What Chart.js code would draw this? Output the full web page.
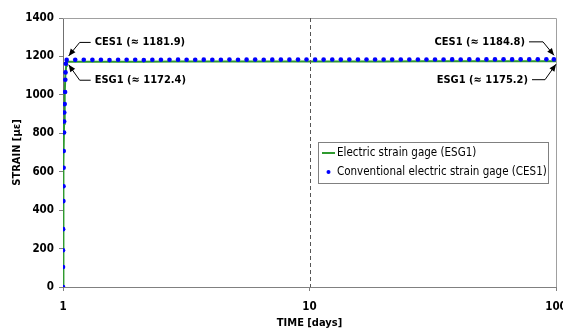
<!DOCTYPE html>
<html>
<head>
<meta charset="utf-8">
<script src="https://cdn.jsdelivr.net/npm/chart.js@4.4.1/dist/chart.umd.min.js"></script>
<style>
  body{margin:0;background:#fff;}
  canvas{display:block;}
</style>
</head>
<body>
<canvas id="myChart" width="563" height="331"></canvas>
<script>
// conventional gage (CES1) readings, time in days
const cesTime = [1.000,1.000,1.000,1.001,1.004,1.005,1.006,1.007,1.010,1.011,1.012,1.016,1.020,1.022,1.024,1.027,1.035,
  1.121,1.214,1.316,1.425,1.544,1.673,1.812,1.963,2.127,2.304,2.496,2.704,2.929,3.173,3.438,3.724,4.034,4.370,4.734,5.129,
  5.556,6.019,6.521,7.064,7.653,8.290,8.981,9.725,10.54,11.41,12.37,13.40,14.51,15.72,17.03,18.45,19.99,21.65,23.46,25.41,
  27.53,29.82,32.30,34.99,37.91,41.06,44.49,48.19,52.21,56.55,61.26,66.37,71.89,77.88,84.37,91.39,98.0];
const cesStrain = [0,104,191,301,447,524,621,708,804,861,908,952,1015,1079,1117,1162,1181.9,
  1182.3,1182.6,1182.1,1182.8,1180.9,1182.5,1183.0,1182.7,1180.8,1182.9,1183.1,1182.6,1183.2,1182.8,1183.0,1183.3,1182.9,1183.1,1183.4,1183.0,
  1183.2,1183.5,1183.1,1183.3,1183.6,1183.2,1183.4,1183.7,1183.3,1183.5,1183.8,1183.6,1183.9,1183.7,1184.0,1183.8,1184.1,1183.9,1184.2,1184.0,
  1184.3,1184.1,1184.4,1184.2,1184.5,1184.3,1184.6,1184.4,1184.6,1184.5,1184.7,1184.6,1184.7,1184.6,1184.8,1184.7,1184.8];

// electric strain gage (ESG1)
const esgTime = [1.000,1.001,1.004,1.007,1.010,1.016,1.022,1.030,1.035,1.5,2,3,5,7,10,15,20,30,50,70,100];
const esgStrain = [0,150,400,650,850,1000,1100,1150,1172.4,1172.6,1172.9,1173.1,1173.0,1173.4,1173.8,1174.0,1174.2,1174.5,1174.8,1175.0,1175.2];

const seriesNames = ['Electric strain gage (ESG1)','Conventional electric strain gage (CES1)'];
const xTicks = [1,10,100];

// arrow notes
const noteSeries = ['CES1','ESG1','CES1','ESG1'];
const noteTime = [1.035,1.035,100,100];
const noteValue = [1181.9,1172.4,1184.8,1175.2];

const FONT = "'DejaVu Sans Condensed','DejaVu Sans',sans-serif";

const extras = {
  id:'extras',
  afterDatasetsDraw(chart){
    const {ctx, chartArea:a, scales:{x,y}} = chart;
    ctx.save();
    // top and right frame
    ctx.strokeStyle = '#a0a0a0'; ctx.lineWidth = 1;
    ctx.beginPath();
    ctx.moveTo(a.left, a.top+0.5); ctx.lineTo(a.right+0.5, a.top+0.5); ctx.lineTo(a.right+0.5, a.bottom);
    ctx.stroke();
    // dashed line at 10
    const px = Math.round(x.getPixelForValue(10))+0.5;
    ctx.strokeStyle = '#555'; ctx.setLineDash([4,3]);
    ctx.beginPath(); ctx.moveTo(px, a.top); ctx.lineTo(px, a.bottom); ctx.stroke();
    ctx.setLineDash([]);

    // legend box
    const lx = a.right-238, ly = a.top+124;
    ctx.fillStyle = '#fff'; ctx.fillRect(lx, ly, 230, 41);
    ctx.strokeStyle = '#808080'; ctx.strokeRect(lx+0.5, ly+0.5, 230, 41);
    const ds = chart.data.datasets;
    ctx.strokeStyle = ds[1].borderColor; ctx.lineWidth = 2;
    ctx.beginPath(); ctx.moveTo(lx+4, ly+11); ctx.lineTo(lx+17, ly+11); ctx.stroke();
    ctx.fillStyle = ds[0].pointBackgroundColor;
    ctx.beginPath(); ctx.arc(lx+10.5, ly+30, 2, 0, Math.PI*2); ctx.fill();
    ctx.fillStyle = '#000'; ctx.font = '11.5px '+FONT; ctx.textBaseline = 'middle'; ctx.textAlign = 'left';
    ctx.fillText(seriesNames[0], lx+19, ly+11);
    ctx.fillText(seriesNames[1], lx+19, ly+30);

    // arrow notes
    ctx.font = 'bold 11px '+FONT; ctx.lineWidth = 1;
    noteSeries.forEach((s,i)=>{
      const p = {x:x.getPixelForValue(noteTime[i]), y:y.getPixelForValue(noteValue[i])};
      const up = s==='CES1';
      const left = noteTime[i] < 10;
      const ty = up ? p.y-17.5 : p.y+18.5;
      const dir = left ? 1 : -1;
      const tip = {x: p.x + (left ? 2 : (up ? -2 : 0)), y: p.y + (up ? -4 : 3)};
      const elbow = {x: tip.x + dir*11, y: ty};
      const end = {x: tip.x + dir*(left?22:(up?25:24)), y: ty};
      ctx.strokeStyle = '#000';
      ctx.beginPath(); ctx.moveTo(end.x, end.y); ctx.lineTo(elbow.x, elbow.y); ctx.lineTo(tip.x, tip.y); ctx.stroke();
      const ang = Math.atan2(tip.y-elbow.y, tip.x-elbow.x);
      ctx.fillStyle = '#000';
      ctx.beginPath();
      ctx.moveTo(tip.x, tip.y);
      ctx.lineTo(tip.x-7*Math.cos(ang)+3*Math.sin(ang), tip.y-7*Math.sin(ang)-3*Math.cos(ang));
      ctx.lineTo(tip.x-7*Math.cos(ang)-3*Math.sin(ang), tip.y-7*Math.sin(ang)+3*Math.cos(ang));
      ctx.closePath(); ctx.fill();
      ctx.textAlign = left ? 'left' : 'right';
      ctx.fillText(s+' (\u2248 '+noteValue[i]+')', end.x + dir*4, ty);
    });
    ctx.restore();
  }
};

const ctx = document.getElementById('myChart');
new Chart(ctx,{
  type:'scatter',
  data:{
    datasets:[{
      label: seriesNames[1],
      data: cesTime.map((t,i)=>({x:t, y:cesStrain[i]})),
      showLine:false,
      pointRadius:2.3,
      pointBorderWidth:0,
      pointBackgroundColor:'#0000ff',
      borderColor:'#0000ff',
      order:0
    },{
      label: seriesNames[0],
      data: esgTime.map((t,i)=>({x:t, y:esgStrain[i]})),
      showLine:true,
      borderColor:'#2f9a2f',
      borderWidth:2,
      pointRadius:0,
      tension:0,
      order:1
    }]
  },
  options:{
    responsive:false,
    animation:false,
    devicePixelRatio:1,
    layout:{padding:{top:18,right:7,left:0,bottom:0}},
    plugins:{legend:{display:false}, tooltip:{enabled:false}},
    scales:{
      x:{
        type:'logarithmic', min:1, max:100,
        afterBuildTicks: s => { s.ticks = xTicks.map(v=>({value:v})); },
        afterFit: s => { s.height = 44; s.paddingLeft = 0; s.paddingRight = 0; },
        ticks:{ autoSkip:false, maxRotation:0, padding:9, color:'#000',
          font:{family:FONT, weight:'bold', size:11.5},
          callback: v => String(v) },
        grid:{ drawOnChartArea:false, tickLength:4, tickColor:'#808080' },
        border:{ color:'#808080' },
        title:{ display:true, text:'TIME [days]', color:'#000', padding:{top:0,bottom:1},
          font:{family:FONT, weight:'bold', size:11} }
      },
      y:{
        min:0, max:1400,
        afterFit: s => { s.width = 63; },
        ticks:{ stepSize:200, padding:5, color:'#000',
          font:{family:FONT, weight:'bold', size:11.5},
          callback: v => String(v) },
        grid:{ drawOnChartArea:false, tickLength:4, tickColor:'#808080' },
        border:{ color:'#707070' },
        title:{ display:true, text:'STRAIN [\u03bc\u03b5]', color:'#000', padding:{top:11,bottom:0},
          font:{family:FONT, weight:'bold', size:11} }
      }
    }
  },
  plugins:[extras]
});
</script>
</body>
</html>
